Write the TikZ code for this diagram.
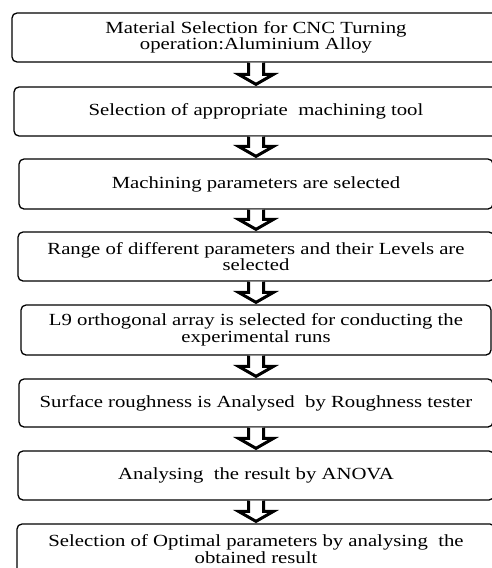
\documentclass[tikz,border=0pt]{standalone}
\usepackage{fontspec}
\setmainfont[FakeStretch=1.22]{Liberation Serif}
\usetikzlibrary{calc}
\tikzset{
  stepbox/.style={draw=black, line width=1.3pt, rounded corners=5pt, fill=white,
    minimum width=#1, align=center, inner sep=0pt,
    font=\fontsize{17}{16.5}\selectfont},
  blockarr/.style={draw=black, line width=3pt, fill=white, line join=miter},
}
\newcommand{\flowarrow}[2]{%
  \path (#1.south) coordinate (s#1) (#2.north) coordinate (t#1);
  \draw[blockarr] ([xshift=-7.5pt]s#1) -- ([xshift=-7.5pt]$(t#1)+(0,-12)$)
    -- ([xshift=-17.5pt]$(t#1)+(0,-12)$) -- ($(t#1)+(0,-2)$)
    -- ([xshift=17.5pt]$(t#1)+(0,-12)$) -- ([xshift=7.5pt]$(t#1)+(0,-12)$)
    -- ([xshift=7.5pt]s#1);
}
\begin{document}
\begin{tikzpicture}[x=1pt,y=-1pt]
\useasboundingbox (0,0) rectangle (492,568);
\clip (0,0) rectangle (492,568);
\node[stepbox=488pt, minimum height=49pt] (b1) at (256,37.5)
  {Material Selection for CNC Turning\\operation:Aluminium Alloy};
\node[stepbox=484pt, minimum height=49pt] (b2) at (256,111.5)
  {Selection of appropriate\ \ machining tool};
\node[stepbox=474pt, minimum height=50pt] (b3) at (256,184)
  {Machining parameters are selected};
\node[stepbox=476pt, minimum height=49pt] (b4) at (256,256.5)
  {Range of different parameters and their Levels are\\selected};
\node[stepbox=470pt, minimum height=50pt] (b5) at (256,330)
  {L9 orthogonal array is selected for conducting the\\experimental runs};
\node[stepbox=474pt, minimum height=48pt] (b6) at (256,403)
  {Surface roughness is Analysed\ \ by Roughness tester};
\node[stepbox=476pt, minimum height=49pt] (b7) at (256,475.5)
  {Analysing\ \ the result by ANOVA};
\node[stepbox=478pt, minimum height=50pt] (b8) at (256,549)
  {Selection of Optimal parameters by analysing\ \ the\\obtained result};
\flowarrow{b1}{b2}
\flowarrow{b2}{b3}
\flowarrow{b3}{b4}
\flowarrow{b4}{b5}
\flowarrow{b5}{b6}
\flowarrow{b6}{b7}
\flowarrow{b7}{b8}
\end{tikzpicture}
\end{document}
